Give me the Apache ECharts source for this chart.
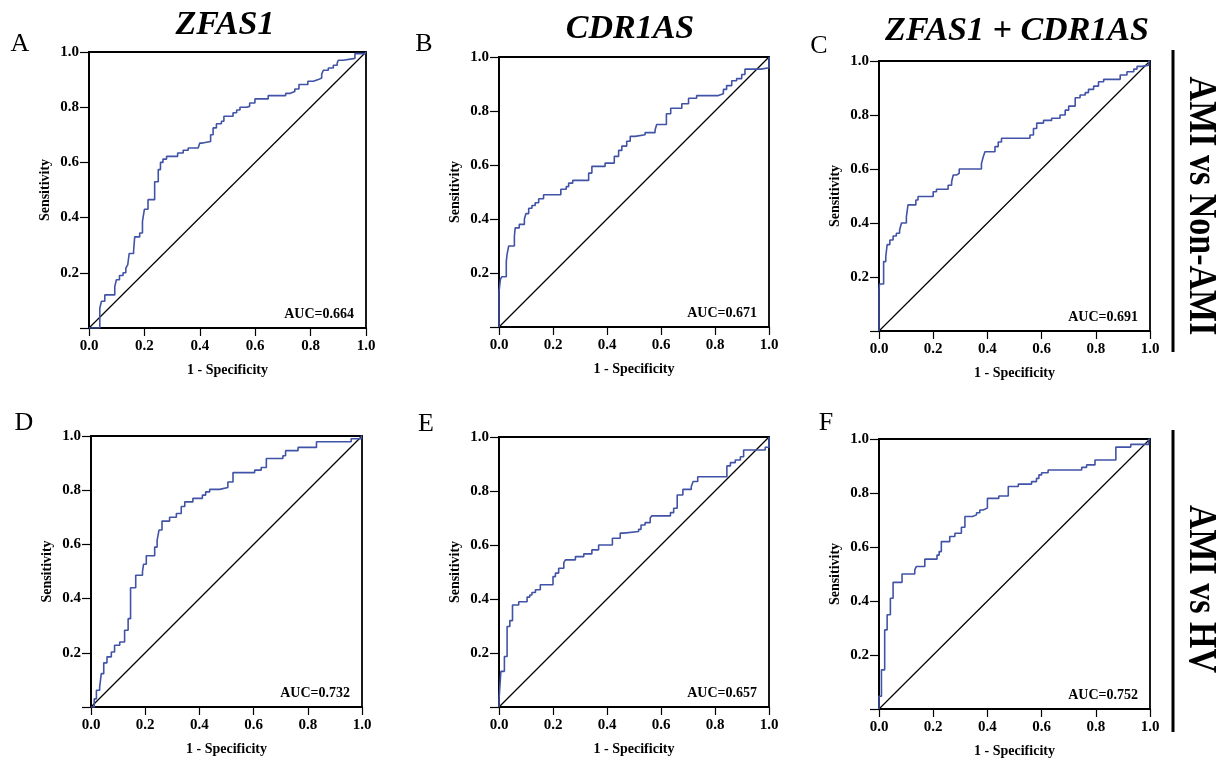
<!DOCTYPE html>
<html><head><meta charset="utf-8">
<script src="https://cdn.jsdelivr.net/npm/echarts@6/dist/echarts.min.js"></script>
<style>html,body{margin:0;padding:0;background:#fff}#c{width:1227px;height:759px}</style>
</head><body><div id="c"></div><script>
// ---- data ----
const panelLetters = ['A', 'B', 'C', 'D', 'E', 'F'];
const geneTitles = ['ZFAS1', 'CDR1AS', 'ZFAS1 + CDR1AS'];
const rowLabels = ['AMI vs Non-AMI', 'AMI vs HV'];
const aucLabels = ['AUC=0.664', 'AUC=0.671', 'AUC=0.691', 'AUC=0.732', 'AUC=0.657', 'AUC=0.752'];
const xAxisName = '1 - Specificity';
const yAxisName = 'Sensitivity';
const refLine = [[0, 0], [1, 1]];

// ROC step points: [1 - specificity, sensitivity] (plateau start, level)
const rocA = [[0,0],[0.039,0.072],[0.045,0.097],[0.057,0.12],[0.093,0.15],[0.099,0.175],[0.11,0.19],[0.123,0.2],[0.133,0.217],[0.14,0.23],[0.145,0.27],[0.161,0.28],[0.165,0.33],[0.183,0.344],[0.193,0.386],[0.2,0.43],[0.213,0.465],[0.237,0.53],[0.25,0.574],[0.258,0.6],[0.267,0.612],[0.28,0.622],[0.32,0.634],[0.34,0.644],[0.358,0.652],[0.394,0.658],[0.4,0.67],[0.41,0.676],[0.439,0.70],[0.448,0.725],[0.46,0.74],[0.478,0.749],[0.487,0.767],[0.52,0.78],[0.533,0.79],[0.545,0.80],[0.569,0.803],[0.58,0.815],[0.599,0.83],[0.647,0.842],[0.71,0.85],[0.725,0.857],[0.743,0.866],[0.758,0.882],[0.79,0.894],[0.81,0.9],[0.828,0.906],[0.84,0.92],[0.846,0.934],[0.864,0.942],[0.882,0.952],[0.896,0.96],[0.9,0.97],[0.918,0.977],[0.96,0.994],[0.996,1],[1,1]];
const rocB = [[0,0],[0,0.13],[0.005,0.175],[0.01,0.186],[0.027,0.243],[0.03,0.27],[0.036,0.30],[0.057,0.336],[0.06,0.367],[0.075,0.38],[0.094,0.40],[0.1,0.42],[0.11,0.44],[0.122,0.45],[0.134,0.46],[0.147,0.475],[0.165,0.49],[0.229,0.51],[0.249,0.52],[0.258,0.533],[0.273,0.543],[0.332,0.57],[0.344,0.595],[0.393,0.607],[0.427,0.632],[0.443,0.654],[0.455,0.67],[0.473,0.688],[0.486,0.706],[0.504,0.712],[0.541,0.72],[0.578,0.73],[0.584,0.75],[0.62,0.79],[0.636,0.81],[0.677,0.827],[0.702,0.847],[0.732,0.857],[0.812,0.864],[0.831,0.88],[0.843,0.894],[0.862,0.912],[0.88,0.92],[0.899,0.935],[0.911,0.955],[0.97,0.96],[1,1]];
const rocC = [[0,0],[0,0.152],[0.002,0.174],[0.017,0.257],[0.025,0.275],[0.03,0.32],[0.04,0.337],[0.052,0.352],[0.064,0.362],[0.076,0.374],[0.083,0.40],[0.101,0.423],[0.107,0.467],[0.136,0.485],[0.144,0.498],[0.2,0.516],[0.212,0.525],[0.255,0.54],[0.268,0.553],[0.274,0.578],[0.286,0.584],[0.296,0.60],[0.378,0.62],[0.385,0.646],[0.391,0.664],[0.428,0.683],[0.44,0.70],[0.452,0.714],[0.557,0.726],[0.57,0.75],[0.582,0.77],[0.607,0.78],[0.637,0.788],[0.668,0.80],[0.687,0.818],[0.7,0.833],[0.724,0.864],[0.742,0.874],[0.761,0.883],[0.773,0.895],[0.792,0.907],[0.81,0.923],[0.829,0.932],[0.89,0.948],[0.915,0.96],[0.94,0.97],[0.952,0.98],[0.97,0.984],[0.995,1],[1,1]];
const rocD = [[0,0],[0.012,0.03],[0.02,0.062],[0.032,0.074],[0.038,0.123],[0.047,0.163],[0.059,0.185],[0.075,0.203],[0.087,0.228],[0.106,0.24],[0.124,0.283],[0.137,0.326],[0.146,0.44],[0.165,0.486],[0.19,0.50],[0.194,0.527],[0.204,0.558],[0.235,0.59],[0.244,0.616],[0.251,0.653],[0.262,0.686],[0.29,0.70],[0.315,0.714],[0.333,0.74],[0.346,0.757],[0.376,0.77],[0.411,0.782],[0.423,0.794],[0.438,0.803],[0.475,0.81],[0.505,0.83],[0.524,0.865],[0.604,0.874],[0.628,0.884],[0.647,0.917],[0.708,0.927],[0.718,0.946],[0.764,0.958],[0.832,0.979],[0.96,0.99],[0.997,1],[1,1]];
const rocE = [[0,0],[0,0.027],[0.007,0.132],[0.02,0.187],[0.03,0.298],[0.04,0.32],[0.05,0.378],[0.073,0.39],[0.104,0.407],[0.114,0.415],[0.122,0.424],[0.135,0.434],[0.153,0.453],[0.2,0.483],[0.209,0.496],[0.221,0.514],[0.24,0.535],[0.246,0.545],[0.283,0.557],[0.314,0.567],[0.344,0.582],[0.369,0.6],[0.42,0.625],[0.449,0.644],[0.462,0.65],[0.517,0.658],[0.526,0.674],[0.541,0.683],[0.56,0.7],[0.566,0.708],[0.635,0.72],[0.647,0.736],[0.66,0.785],[0.681,0.806],[0.712,0.816],[0.719,0.835],[0.736,0.853],[0.844,0.893],[0.857,0.905],[0.875,0.915],[0.894,0.927],[0.906,0.952],[0.986,0.962],[1,1]];
const rocF = [[0,0],[0,0.047],[0.009,0.145],[0.021,0.293],[0.03,0.349],[0.042,0.41],[0.052,0.469],[0.085,0.50],[0.132,0.515],[0.138,0.528],[0.169,0.555],[0.214,0.57],[0.222,0.583],[0.23,0.62],[0.261,0.639],[0.28,0.651],[0.304,0.673],[0.317,0.713],[0.345,0.719],[0.36,0.727],[0.372,0.737],[0.384,0.744],[0.4,0.78],[0.442,0.789],[0.477,0.824],[0.514,0.833],[0.563,0.842],[0.581,0.854],[0.59,0.867],[0.6,0.875],[0.624,0.885],[0.748,0.895],[0.766,0.904],[0.797,0.922],[0.874,0.97],[0.929,0.98],[0.995,1],[1,1]];
const rocCurves = [rocA, rocB, rocC, rocD, rocE, rocF];

// ---- layout ----
const boxes = [
  {left: 89, top: 52, width: 277, height: 276},
  {left: 499, top: 57, width: 270, height: 270},
  {left: 879, top: 61, width: 271, height: 270},
  {left: 91, top: 436, width: 271, height: 271},
  {left: 499, top: 437, width: 270, height: 270},
  {left: 879, top: 439, width: 271, height: 270}
];
const letterPos = [[20,44],[424,44],[819,46],[24,423],[426,424],[826,423]];
const titlePos = [[225,25],[630,29],[1017,31]];
const SERIF = "'Liberation Serif', 'Times New Roman', serif";
const CURVE = '#4153a6';

const grid = [], xAxis = [], yAxis = [], series = [], graphic = [];
boxes.forEach((b, i) => {
  grid.push({left: b.left, top: b.top, width: b.width, height: b.height, show: true,
    borderColor: '#000', borderWidth: 1.8, backgroundColor: '#fff'});
  xAxis.push({type: 'value', gridIndex: i, min: 0, max: 1, interval: 0.2,
    name: xAxisName, nameLocation: 'middle', nameGap: 35,
    nameTextStyle: {fontFamily: SERIF, fontWeight: 'bold', fontSize: 14, color: '#000'},
    axisLine: {show: true, lineStyle: {color: '#000', width: 1.8}},
    axisTick: {show: true, length: 8, lineStyle: {color: '#000', width: 1.2}},
    splitLine: {show: false},
    axisLabel: {margin: 11, fontFamily: SERIF, fontWeight: 'bold', fontSize: 15, color: '#000',
      formatter: v => v.toFixed(1)}});
  yAxis.push({type: 'value', gridIndex: i, min: 0, max: 1, interval: 0.2,
    name: yAxisName, nameLocation: 'middle', nameGap: 37, nameRotate: 90,
    nameTextStyle: {fontFamily: SERIF, fontWeight: 'bold', fontSize: 14, color: '#000'},
    axisLine: {show: true, lineStyle: {color: '#000', width: 1.8}},
    axisTick: {show: true, length: 9, lineStyle: {color: '#000', width: 1.2}},
    splitLine: {show: false},
    axisLabel: {margin: 10, fontFamily: SERIF, fontWeight: 'bold', fontSize: 15, color: '#000',
      formatter: v => v === 0 ? '' : v.toFixed(1)}});
  series.push({type: 'line', xAxisIndex: i, yAxisIndex: i, data: refLine, showSymbol: false,
    silent: true, lineStyle: {color: '#000', width: 1.2}, z: 2});
  series.push({type: 'line', xAxisIndex: i, yAxisIndex: i, data: rocCurves[i], step: 'end',
    showSymbol: false, silent: true, lineStyle: {color: CURVE, width: 1.6}, z: 3});
  graphic.push({type: 'text', x: b.left + b.width - 12, y: b.top + b.height - 14,
    style: {text: aucLabels[i], fill: '#000', font: 'bold 14px ' + SERIF,
      textAlign: 'right', textVerticalAlign: 'middle'}, z: 10});
  graphic.push({type: 'text', x: letterPos[i][0], y: letterPos[i][1],
    style: {text: panelLetters[i], fill: '#000', font: '26px ' + SERIF,
      textAlign: 'center', textVerticalAlign: 'middle'}});
});
geneTitles.forEach((t, i) => {
  graphic.push({type: 'text', x: titlePos[i][0], y: titlePos[i][1],
    style: {text: t, fill: '#000', font: 'italic bold 34px ' + SERIF,
      textAlign: 'center', textVerticalAlign: 'middle'}});
});
const rowLabelPos = [[1200, 206], [1200, 589]];
const rowLinePos = [[1173, 50, 352], [1173, 430, 732]];
rowLabels.forEach((t, i) => {
  graphic.push({type: 'text', x: rowLabelPos[i][0], y: rowLabelPos[i][1], rotation: -Math.PI / 2,
    scaleY: 1.15,
    style: {text: t, fill: '#000', font: 'bold 34px ' + SERIF,
      textAlign: 'center', textVerticalAlign: 'middle'}});
  graphic.push({type: 'line', shape: {x1: rowLinePos[i][0], y1: rowLinePos[i][1], x2: rowLinePos[i][0], y2: rowLinePos[i][2]},
    style: {stroke: '#000', lineWidth: 3}});
});

const chart = echarts.init(document.getElementById('c'), null, {renderer: 'canvas'});
chart.setOption({backgroundColor: '#fff', animation: false, grid, xAxis, yAxis, series, graphic});
</script></body></html>
